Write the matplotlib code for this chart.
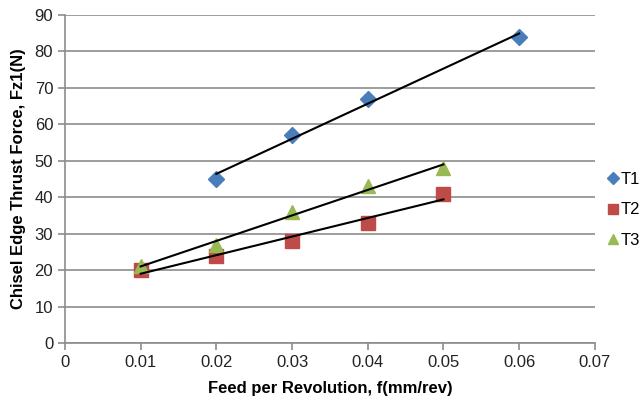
import matplotlib.pyplot as plt
import numpy as np

plt.rcParams['font.family'] = ['Liberation Sans', 'DejaVu Sans']

# feed (mm/rev) and chisel edge thrust force (N) per tool
t1_feed = [0.02, 0.03, 0.04, 0.06]
t1_force = [45, 57, 67, 84]
t2_feed = [0.01, 0.02, 0.03, 0.04, 0.05]
t2_force = [20, 24, 28, 33, 41]
t3_feed = [0.01, 0.02, 0.03, 0.04, 0.05]
t3_force = [21, 27, 36, 43, 48]

fig = plt.figure(figsize=(6.43, 4.0), dpi=100)
ax = fig.add_axes([0.101, 0.1425, 0.824, 0.82])

grid_color = '#8c8c8c'

series = [
    ('T1', t1_feed, t1_force, 'D', '#4a7ebb', 8.5),
    ('T2', t2_feed, t2_force, 's', '#be4b48', 9.5),
    ('T3', t3_feed, t3_force, '^', '#98b954', 10.5),
]

for name, xs, ys, mk, col, ms in series:
    ax.plot(xs, ys, linestyle='none', marker=mk, color=col, markersize=ms,
            label=name, zorder=3)
    # linear trendline over the measured range
    k, b = np.polyfit(xs, ys, 1)
    xl = np.array([min(xs), max(xs)])
    ax.plot(xl, k * xl + b, color='black', linewidth=1.5, zorder=4)

ax.set_xlim(0, 0.07)
ax.set_ylim(0, 90)
ax.set_xticks(np.arange(0, 0.071, 0.01))
ax.set_xticklabels(['0', '0.01', '0.02', '0.03', '0.04', '0.05', '0.06', '0.07'])
ax.set_yticks(range(0, 91, 10))
ax.yaxis.grid(True, color=grid_color, linewidth=1.2)
ax.set_axisbelow(True)

for side in ['top', 'right']:
    ax.spines[side].set_visible(False)
for side in ['left', 'bottom']:
    ax.spines[side].set_color(grid_color)
    ax.spines[side].set_linewidth(1.2)
ax.tick_params(axis='both', direction='out', length=5, width=1.2,
               color=grid_color, labelsize=12, labelcolor='#222222')

ax.set_xlabel('Feed per Revolution, f(mm/rev)', fontsize=12,
              fontweight='bold', labelpad=8)
ax.set_ylabel('Chisel Edge Thrust Force, Fz1(N)', fontsize=12,
              fontweight='bold', labelpad=6)

fig.legend(loc='center left', bbox_to_anchor=(0.945, 0.475), frameon=False,
           fontsize=12, handlelength=0.6, handletextpad=0.15,
           labelspacing=0.95, borderaxespad=0, borderpad=0,
           markerscale=0.75)

fig.savefig('out.png', dpi=100)
